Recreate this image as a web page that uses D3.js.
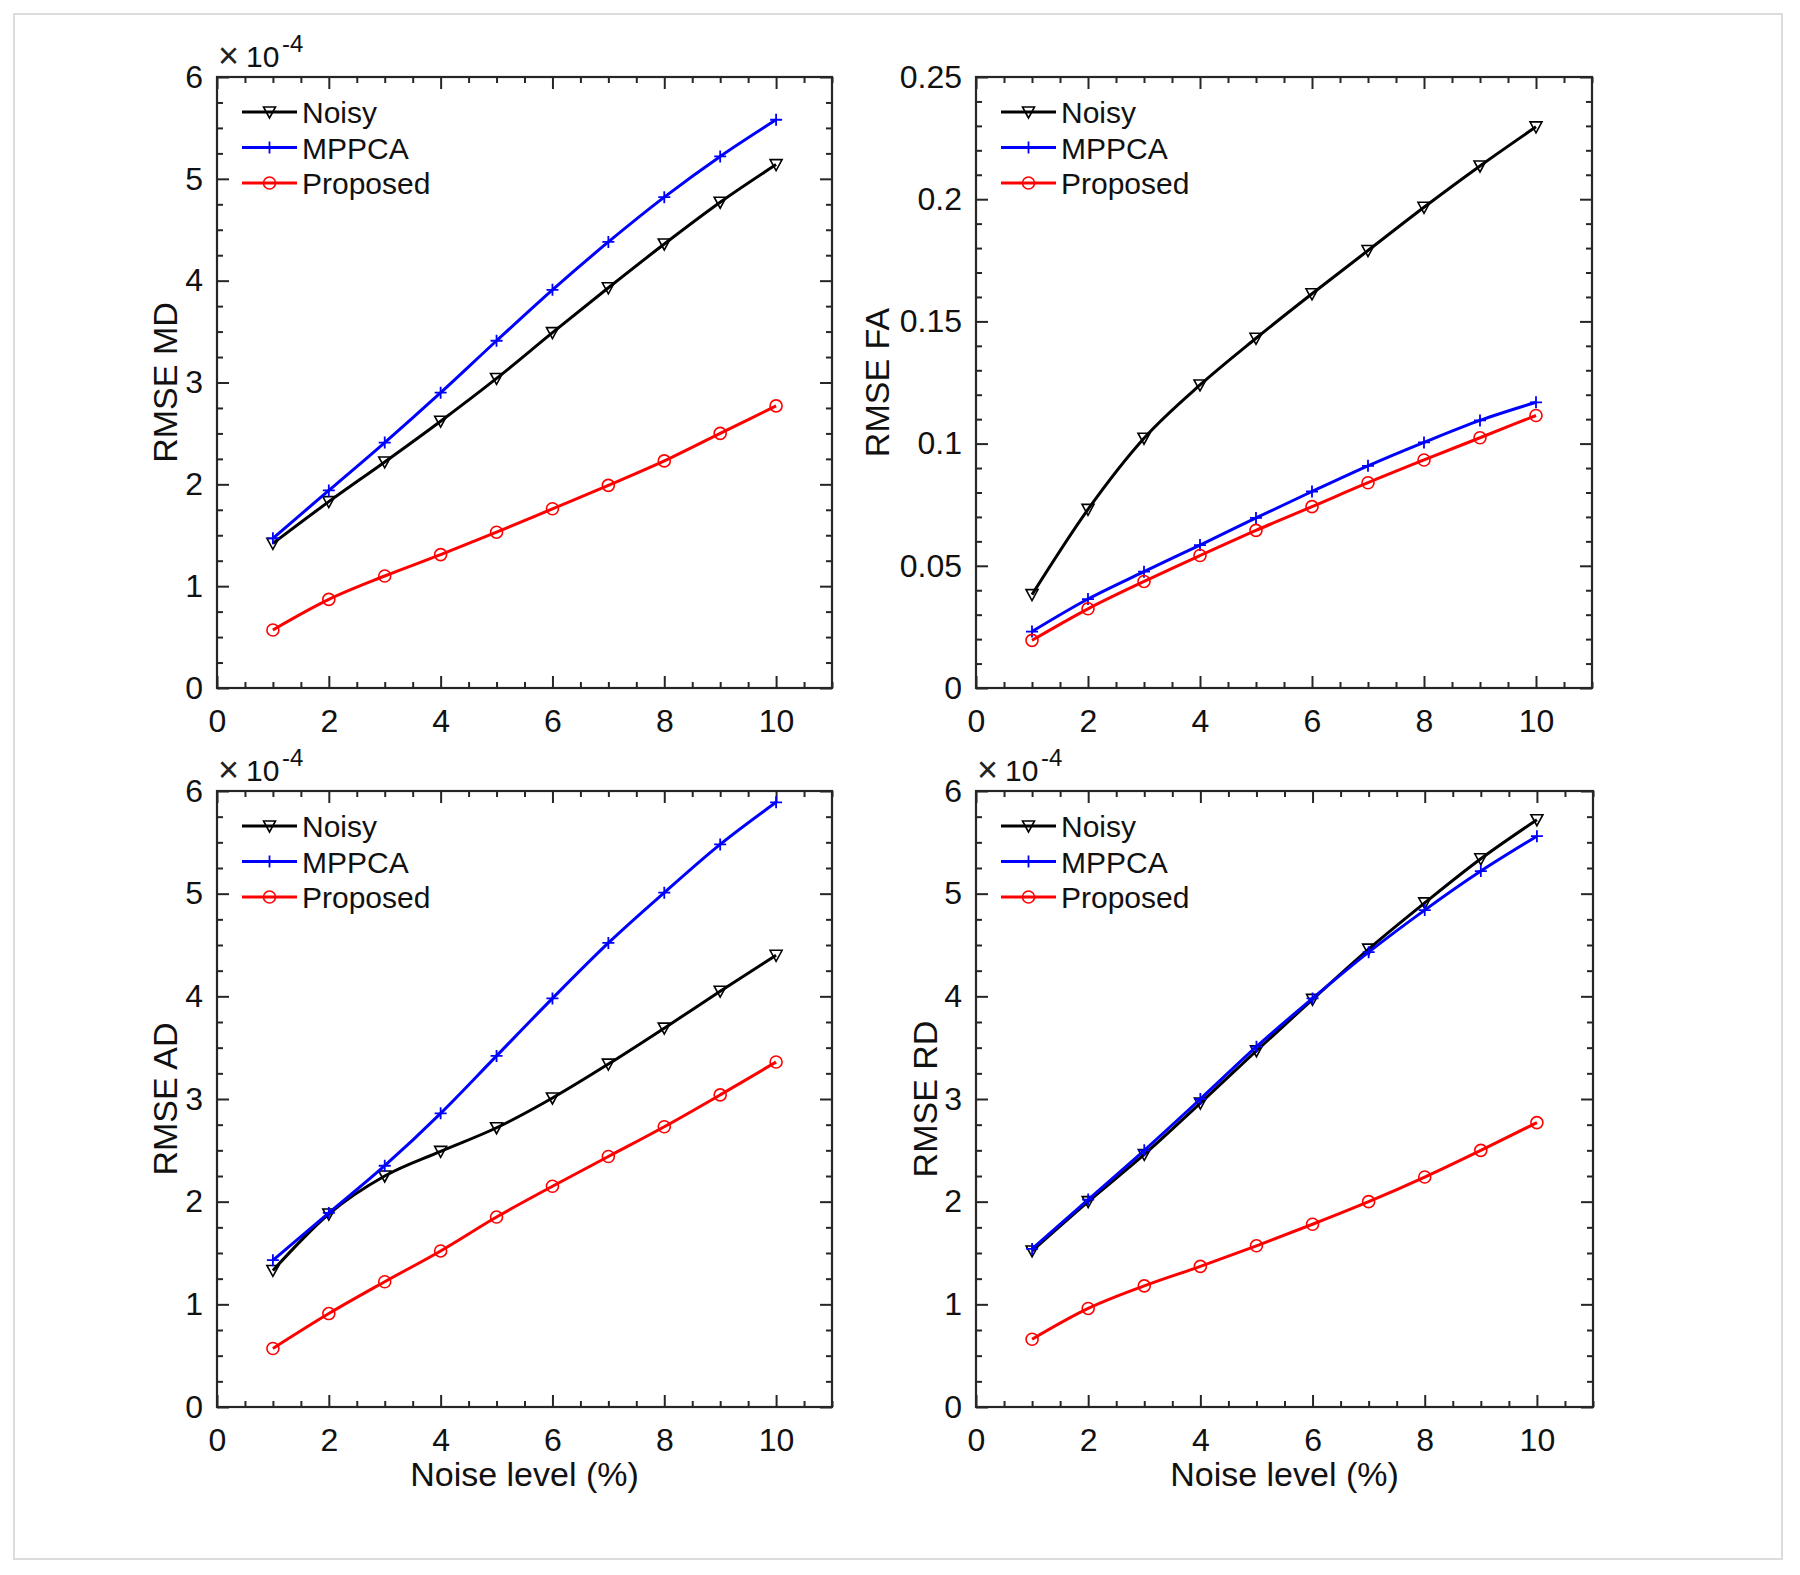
<!DOCTYPE html>
<html>
<head>
<meta charset="utf-8">
<script src="https://cdn.jsdelivr.net/npm/d3@7"></script>
<style>
  html, body { margin: 0; padding: 0; background: #fff; }
  svg { display: block; font-family: "Liberation Sans", Arial, sans-serif; }
</style>
</head>
<body>
<svg id="chart" width="1800" height="1575"></svg>
<script>
// ---------- data ----------
const noiseLevels = [1, 2, 3, 4, 5, 6, 7, 8, 9, 10];
const seriesNames = ["Noisy", "MPPCA", "Proposed"];

// RMSE MD (x 1e-4)
const mdNoisy    = [1.42, 1.83, 2.22, 2.62, 3.04, 3.49, 3.93, 4.36, 4.77, 5.14];
const mdMPPCA    = [1.47, 1.94, 2.41, 2.90, 3.41, 3.91, 4.38, 4.82, 5.22, 5.58];
const mdProposed = [0.57, 0.87, 1.10, 1.31, 1.53, 1.76, 1.99, 2.23, 2.50, 2.77];

// RMSE FA
const faNoisy    = [0.0382, 0.0731, 0.1022, 0.1240, 0.1431, 0.1613, 0.1790, 0.1967, 0.2136, 0.2296];
const faMPPCA    = [0.0231, 0.0364, 0.0476, 0.0585, 0.0696, 0.0804, 0.0909, 0.1005, 0.1095, 0.1169];
const faProposed = [0.0195, 0.0324, 0.0436, 0.0542, 0.0645, 0.0742, 0.0840, 0.0933, 0.1024, 0.1115];

// RMSE AD (x 1e-4)
const adNoisy    = [1.33, 1.88, 2.25, 2.49, 2.72, 3.01, 3.34, 3.69, 4.05, 4.40];
const adMPPCA    = [1.43, 1.89, 2.35, 2.86, 3.42, 3.98, 4.52, 5.01, 5.48, 5.89];
const adProposed = [0.57, 0.91, 1.22, 1.52, 1.85, 2.15, 2.44, 2.73, 3.04, 3.36];

// RMSE RD (x 1e-4)
const rdNoisy    = [1.52, 2.00, 2.46, 2.96, 3.47, 3.97, 4.46, 4.91, 5.34, 5.72];
const rdMPPCA    = [1.54, 2.02, 2.50, 3.00, 3.51, 3.98, 4.43, 4.84, 5.22, 5.56];
const rdProposed = [0.66, 0.96, 1.18, 1.37, 1.57, 1.78, 2.00, 2.24, 2.50, 2.77];

// axis ticks
const xTicks = [0, 2, 4, 6, 8, 10];
const yTicksE4 = [0, 1, 2, 3, 4, 5, 6];
const yTicksFA = [0, 0.05, 0.1, 0.15, 0.2, 0.25];
const yTickLabelsFA = ["0", "0.05", "0.1", "0.15", "0.2", "0.25"];

// ---------- layout & style ----------
const colors = { Noisy: "#000000", MPPCA: "#0000ff", Proposed: "#ff0000" };
const markers = { Noisy: "tri", MPPCA: "plus", Proposed: "circle" };

const panels = [
  { ylabel: "RMSE MD", data: [mdNoisy, mdMPPCA, mdProposed], ydom: [0, 6], yticks: yTicksE4, ylabels: yTicksE4.map(String), yminor: 0.25, exp: true, xlabel: false,
    left: 217, right: 832, top: 77, bottom: 688, ylabX: 177 },
  { ylabel: "RMSE FA", data: [faNoisy, faMPPCA, faProposed], ydom: [0, 0.25], yticks: yTicksFA, ylabels: yTickLabelsFA, yminor: 0.01, exp: false, xlabel: false,
    left: 976, right: 1592, top: 77, bottom: 688, ylabX: 889 },
  { ylabel: "RMSE AD", data: [adNoisy, adMPPCA, adProposed], ydom: [0, 6], yticks: yTicksE4, ylabels: yTicksE4.map(String), yminor: 0.25, exp: true, xlabel: true,
    left: 217, right: 832, top: 791, bottom: 1407, ylabX: 177 },
  { ylabel: "RMSE RD", data: [rdNoisy, rdMPPCA, rdProposed], ydom: [0, 6], yticks: yTicksE4, ylabels: yTicksE4.map(String), yminor: 0.25, exp: true, xlabel: true,
    left: 976, right: 1593, top: 791, bottom: 1407, ylabX: 937 }
];

const svg = d3.select("#chart");

// outer light frame
svg.append("rect").attr("x", 14).attr("y", 14).attr("width", 1768).attr("height", 1545)
  .attr("fill", "none").attr("stroke", "#dcdcdc").attr("stroke-width", 2);

const axisColor = "#262626";

function drawMarker(g, type, color, cx, cy) {
  if (type === "tri") {
    g.append("path").attr("d", `M${cx - 6},${cy - 5}L${cx + 6},${cy - 5}L${cx},${cy + 6}Z`)
      .attr("fill", "none").attr("stroke", color).attr("stroke-width", 1.6);
  } else if (type === "plus") {
    g.append("path").attr("d", `M${cx - 6},${cy}H${cx + 6}M${cx},${cy - 6}V${cy + 6}`)
      .attr("fill", "none").attr("stroke", color).attr("stroke-width", 1.8);
  } else {
    g.append("circle").attr("cx", cx).attr("cy", cy).attr("r", 6)
      .attr("fill", "none").attr("stroke", color).attr("stroke-width", 1.6);
  }
}

panels.forEach(p => {
  const g = svg.append("g");
  const x = d3.scaleLinear().domain([0, 11]).range([p.left, p.right]);
  const y = d3.scaleLinear().domain(p.ydom).range([p.bottom, p.top]);

  const xMinor = d3.range(0, 11.001, 0.5).filter(v => !xTicks.includes(v));
  const yMinor = d3.range(p.ydom[0], p.ydom[1] + 1e-9, p.yminor)
    .filter(v => !p.yticks.some(t => Math.abs(t - v) < 1e-9));

  // bottom axis with labels (ticks inward)
  const ax = g.append("g").attr("transform", `translate(0,${p.bottom})`)
    .call(d3.axisBottom(x).tickValues(xTicks).tickFormat(d3.format("d")).tickSize(-12).tickPadding(21));
  ax.select(".domain").remove();
  ax.selectAll("line").attr("stroke", axisColor).attr("stroke-width", 2);
  ax.selectAll("text").attr("font-size", 32).attr("fill", "#111").attr("font-family", "Liberation Sans, Arial, sans-serif");
  const axm = g.append("g").attr("transform", `translate(0,${p.bottom})`)
    .call(d3.axisBottom(x).tickValues(xMinor).tickFormat("").tickSize(-6));
  axm.select(".domain").remove();
  axm.selectAll("line").attr("stroke", axisColor).attr("stroke-width", 2);

  // top axis mirrored ticks
  const at = g.append("g").attr("transform", `translate(0,${p.top})`)
    .call(d3.axisTop(x).tickValues(xTicks).tickFormat("").tickSize(-12));
  at.select(".domain").remove();
  at.selectAll("line").attr("stroke", axisColor).attr("stroke-width", 2);
  const atm = g.append("g").attr("transform", `translate(0,${p.top})`)
    .call(d3.axisTop(x).tickValues(xMinor).tickFormat("").tickSize(-6));
  atm.select(".domain").remove();
  atm.selectAll("line").attr("stroke", axisColor).attr("stroke-width", 2);

  // left axis with labels
  const ay = g.append("g").attr("transform", `translate(${p.left},0)`)
    .call(d3.axisLeft(y).tickValues(p.yticks).tickFormat((d, i) => p.ylabels[i]).tickSize(-12).tickPadding(14));
  ay.select(".domain").remove();
  ay.selectAll("line").attr("stroke", axisColor).attr("stroke-width", 2);
  ay.selectAll("text").attr("font-size", 32).attr("fill", "#111").attr("font-family", "Liberation Sans, Arial, sans-serif");
  const aym = g.append("g").attr("transform", `translate(${p.left},0)`)
    .call(d3.axisLeft(y).tickValues(yMinor).tickFormat("").tickSize(-6));
  aym.select(".domain").remove();
  aym.selectAll("line").attr("stroke", axisColor).attr("stroke-width", 2);

  // right axis mirrored ticks
  const ar = g.append("g").attr("transform", `translate(${p.right},0)`)
    .call(d3.axisRight(y).tickValues(p.yticks).tickFormat("").tickSize(-12));
  ar.select(".domain").remove();
  ar.selectAll("line").attr("stroke", axisColor).attr("stroke-width", 2);
  const arm = g.append("g").attr("transform", `translate(${p.right},0)`)
    .call(d3.axisRight(y).tickValues(yMinor).tickFormat("").tickSize(-6));
  arm.select(".domain").remove();
  arm.selectAll("line").attr("stroke", axisColor).attr("stroke-width", 2);

  // box
  g.append("rect").attr("x", p.left).attr("y", p.top)
    .attr("width", p.right - p.left).attr("height", p.bottom - p.top)
    .attr("fill", "none").attr("stroke", axisColor).attr("stroke-width", 2.2);

  // series
  const line = d3.line().x((d, i) => x(noiseLevels[i])).y(d => y(d)).curve(d3.curveMonotoneX);
  seriesNames.forEach((name, si) => {
    const vals = p.data[si];
    g.append("path").datum(vals).attr("d", line)
      .attr("fill", "none").attr("stroke", colors[name]).attr("stroke-width", 3)
      .attr("stroke-linejoin", "round");
    vals.forEach((v, i) => drawMarker(g, markers[name], colors[name], x(noiseLevels[i]), y(v)));
  });

  // legend
  seriesNames.forEach((name, si) => {
    const ly = p.top + 35 + si * 35.5;
    const lx0 = p.left + 25, lx1 = p.left + 80;
    g.append("line").attr("x1", lx0).attr("x2", lx1).attr("y1", ly).attr("y2", ly)
      .attr("stroke", colors[name]).attr("stroke-width", 3);
    drawMarker(g, markers[name], colors[name], (lx0 + lx1) / 2, ly);
    g.append("text").attr("x", p.left + 85).attr("y", ly + 11)
      .attr("font-size", 30).attr("fill", "#111").text(name);
  });

  // y label
  g.append("text").attr("transform", `translate(${p.ylabX},${(p.top + p.bottom) / 2}) rotate(-90)`)
    .attr("text-anchor", "middle").attr("font-size", 34).attr("fill", "#111").text(p.ylabel);

  // x label
  if (p.xlabel) {
    g.append("text").attr("x", (p.left + p.right) / 2).attr("y", p.bottom + 79)
      .attr("text-anchor", "middle").attr("font-size", 34).attr("fill", "#111").text("Noise level (%)");
  }

  // exponent label
  if (p.exp) {
    g.append("text").attr("x", p.left + 1).attr("y", p.top - 9)
      .attr("font-size", 36).attr("font-weight", 300).attr("fill", "#222").text("×");
    g.append("text").attr("x", p.left + 29).attr("y", p.top - 10)
      .attr("font-size", 30).attr("fill", "#111").text("10");
    g.append("text").attr("x", p.left + 65).attr("y", p.top - 25)
      .attr("font-size", 24).attr("fill", "#111").text("-4");
  }
});
</script>
</body>
</html>
